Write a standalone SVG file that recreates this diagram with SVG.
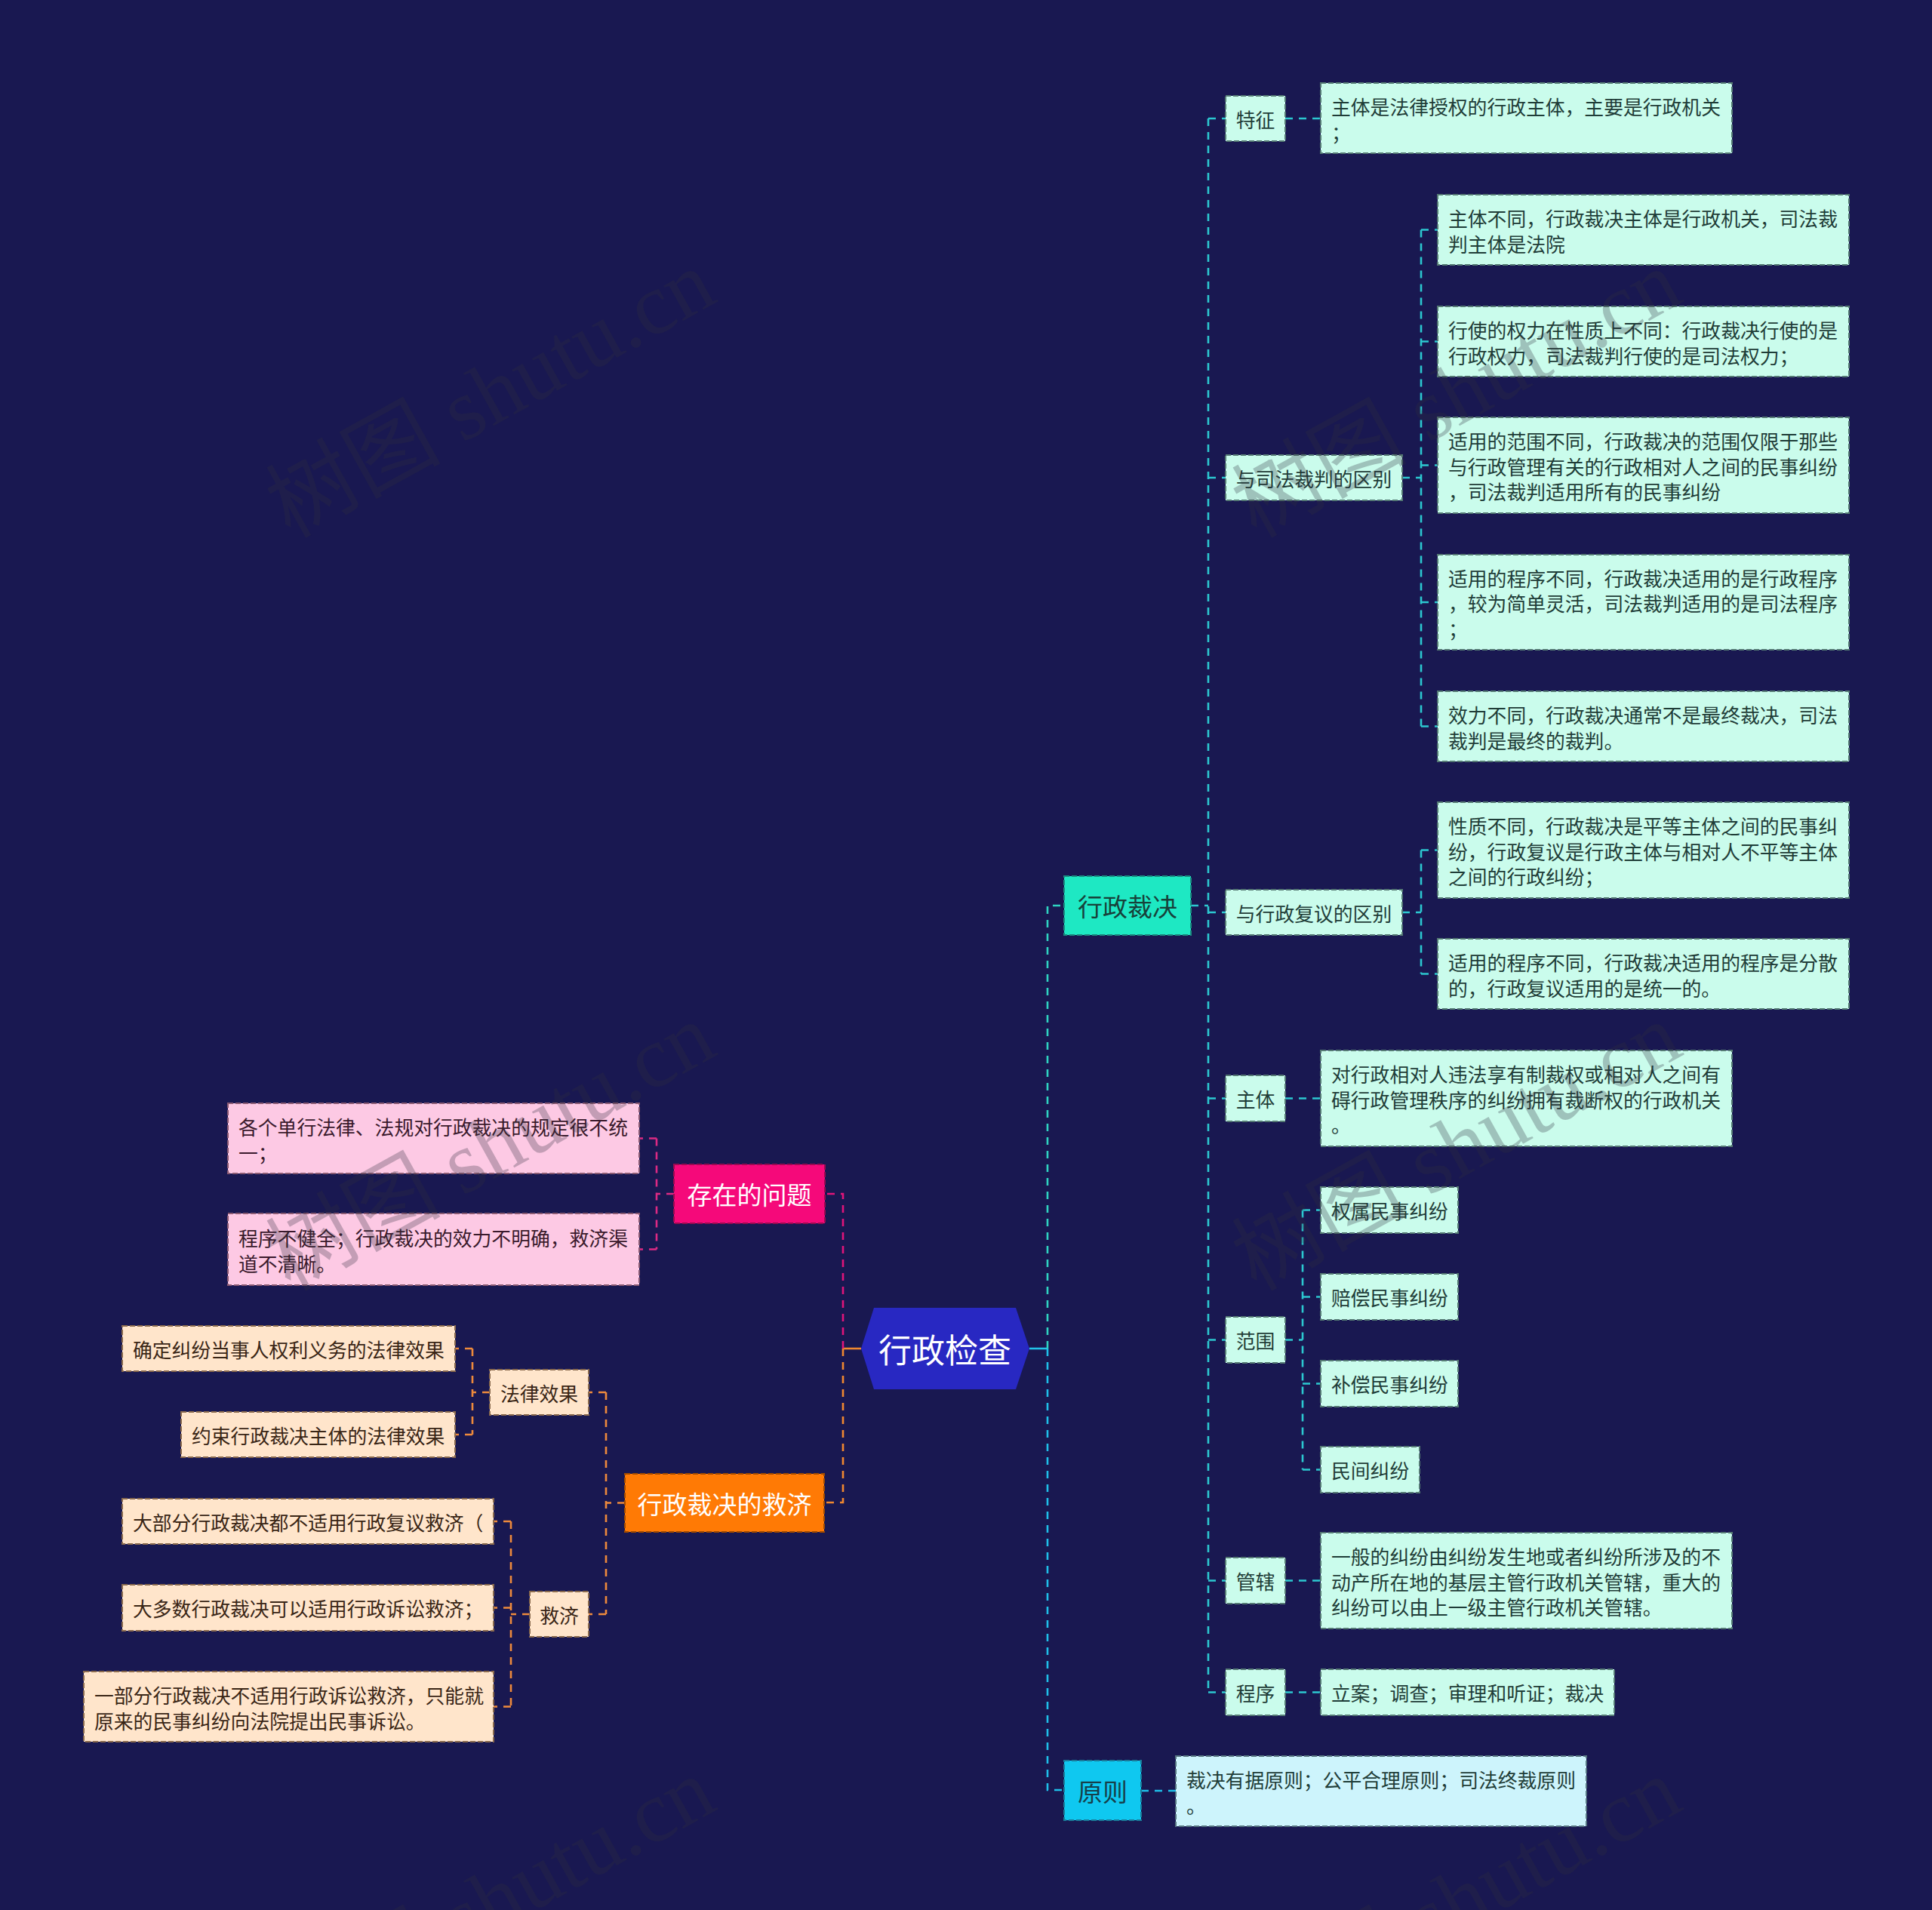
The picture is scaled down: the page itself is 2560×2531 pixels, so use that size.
<svg xmlns="http://www.w3.org/2000/svg" width="2560" height="2531" viewBox="0 0 2560 2531">
<style>
text{font-family:"Noto Sans CJK SC","Noto Sans",sans-serif;dominant-baseline:central}
.t{font-size:25.8px}
.c{text-anchor:middle}
.l1{font-size:33px;text-anchor:middle}
.box{stroke-width:2;stroke-dasharray:7 3}
.mint{fill:#cafcec;stroke:#557a74}
.mintT{fill:#1f3d38}
.pink{fill:#fdc9e4;stroke:#8a5a72}
.pinkT{fill:#3a1a2c}
.peach{fill:#ffe5cb;stroke:#8a6a4e}
.peachT{fill:#3a2616}
.sky{fill:#cdf4fc;stroke:#557480}
.con{fill:none;stroke-width:2.6;stroke-dasharray:10 8}
.teal{stroke:#2cc8d0}
.tealA{stroke:#2fd3c1}
.cyan{stroke:#1fbfe9}
.pk{stroke:#dc2a84}
.pkA{stroke:#e0157a}
.or{stroke:#ee8a3c}
.orA{stroke:#f08830}
.wm{font-family:"Liberation Serif","Noto Sans CJK SC",serif;font-size:116px;fill:#30303e;opacity:0.28;text-anchor:middle}
</style>
<rect x="0" y="0" width="2560" height="2531" fill="#191851"/>

<g id="connectors">
<path d="M1364,1787 H1388" stroke="#22c3e8" stroke-width="2.6" fill="none"/>
<path class="con tealA" d="M1388,1787 V1200 H1410"/>
<path class="con cyan" d="M1388,1787 V2372 H1410"/>
<path d="M1141,1787 H1117" stroke="#f08830" stroke-width="2.6" fill="none"/>
<path class="con pkA" d="M1117,1787 V1582 H1093"/>
<path class="con orA" d="M1117,1787 V1991 H1092"/>

<path class="con teal" d="M1578,1200 H1601"/>
<path class="con teal" d="M1601,157 V2243"/>
<path class="con teal" d="M1601,157 H1624 M1601,633 H1624 M1601,1209 H1624 M1601,1455.5 H1624 M1601,1775.5 H1624 M1601,2094.5 H1624 M1601,2242.5 H1624"/>
<path class="con teal" d="M1703,157 H1750"/>
<path class="con teal" d="M1858,633 H1883 M1883,304.5 V962.5 M1883,304.5 H1905 M1883,452.5 H1905 M1883,616.5 H1905 M1883,798 H1905 M1883,962.5 H1905"/>
<path class="con teal" d="M1858,1209 H1883 M1883,1126.5 V1290.5 M1883,1126.5 H1905 M1883,1290.5 H1905"/>
<path class="con teal" d="M1703,1455.5 H1750"/>
<path class="con teal" d="M1703,1775.5 H1726 M1726,1603.5 V1947.5 M1726,1603.5 H1750 M1726,1718.5 H1750 M1726,1833.5 H1750 M1726,1947.5 H1750"/>
<path class="con teal" d="M1703,2094.5 H1750"/>
<path class="con teal" d="M1703,2242.5 H1750"/>
<path class="con cyan" d="M1512,2373 H1558"/>

<path class="con pk" d="M893,1582 H870 M870,1508.5 V1655.5 M870,1508.5 H847 M870,1655.5 H847"/>
<path class="con or" d="M828,1991.5 H803 M803,1845 V2139 M803,1845 H780 M803,2139 H780"/>
<path class="con or" d="M649,1845 H626 M626,1787 V1901 M626,1787 H603 M626,1901 H603"/>
<path class="con or" d="M702,2139 H677 M677,2016 V2261.5 M677,2016 H654 M677,2130.5 H654 M677,2261.5 H654"/>
</g>

<g id="root">
<polygon points="1141,1787 1158,1733 1346,1733 1364,1787 1346,1841 1158,1841" fill="#2828c2"/>
<text x="1252" y="1787" fill="#ffffff" font-size="44" text-anchor="middle">行政检查</text>
</g>

<g id="n-xzcj">
<rect class="box" x="1410" y="1161" width="168" height="78" fill="#1ee8c3" stroke="#1a8a80"/>
<text class="l1" x="1494" y="1200" fill="#17413a">行政裁决</text>
</g>
<g id="n-yz">
<rect class="box" x="1410" y="2333" width="102" height="79" fill="#0fc8f0" stroke="#1a7a98"/>
<text class="l1" x="1461" y="2372.5" fill="#16404a">原则</text>
</g>
<g id="n-czwt">
<rect class="box" x="893" y="1543" width="200" height="78" fill="#f5097a" stroke="#9a0a50"/>
<text class="l1" x="993" y="1582" fill="#ffffff">存在的问题</text>
</g>
<g id="n-jj">
<rect class="box" x="828" y="1953" width="264" height="77" fill="#ff7a05" stroke="#a04a00"/>
<text class="l1" x="960" y="1991.5" fill="#ffffff">行政裁决的救济</text>
</g>

<g id="n-tz">
<rect class="box mint" x="1624" y="127" width="79" height="60"/>
<text class="t c mintT" x="1663.5" y="157">特征</text>
</g>
<g id="n-sfqb">
<rect class="box mint" x="1624" y="603" width="234" height="60"/>
<text class="t c mintT" x="1741" y="633">与司法裁判的区别</text>
</g>
<g id="n-fyqb">
<rect class="box mint" x="1624" y="1179" width="234" height="60"/>
<text class="t c mintT" x="1741" y="1209">与行政复议的区别</text>
</g>
<g id="n-zt">
<rect class="box mint" x="1624" y="1425" width="79" height="61"/>
<text class="t c mintT" x="1663.5" y="1455.5">主体</text>
</g>
<g id="n-fw">
<rect class="box mint" x="1624" y="1745" width="79" height="61"/>
<text class="t c mintT" x="1663.5" y="1775.5">范围</text>
</g>
<g id="n-gx">
<rect class="box mint" x="1624" y="2064" width="79" height="61"/>
<text class="t c mintT" x="1663.5" y="2094.5">管辖</text>
</g>
<g id="n-cx">
<rect class="box mint" x="1624" y="2212" width="79" height="61"/>
<text class="t c mintT" x="1663.5" y="2242.5">程序</text>
</g>

<g id="l-tz">
<rect class="box mint" x="1750" y="110" width="545" height="93"/>
<text class="t mintT" x="1764"><tspan x="1764" y="140">主体是法律授权的行政主体，主要是行政机关</tspan><tspan x="1764" y="173.5">；</tspan></text>
</g>
<g id="l-sf1">
<rect class="box mint" x="1905" y="258" width="545" height="93"/>
<text class="t mintT"><tspan x="1919" y="288">主体不同，行政裁决主体是行政机关，司法裁</tspan><tspan x="1919" y="321.5">判主体是法院</tspan></text>
</g>
<g id="l-sf2">
<rect class="box mint" x="1905" y="406" width="545" height="93"/>
<text class="t mintT"><tspan x="1919" y="436">行使的权力在性质上不同：行政裁决行使的是</tspan><tspan x="1919" y="469.5">行政权力，司法裁判行使的是司法权力；</tspan></text>
</g>
<g id="l-sf3">
<rect class="box mint" x="1905" y="553" width="545" height="127"/>
<text class="t mintT"><tspan x="1919" y="583">适用的范围不同，行政裁决的范围仅限于那些</tspan><tspan x="1919" y="616.5">与行政管理有关的行政相对人之间的民事纠纷</tspan><tspan x="1919" y="650">，司法裁判适用所有的民事纠纷</tspan></text>
</g>
<g id="l-sf4">
<rect class="box mint" x="1905" y="735" width="545" height="126"/>
<text class="t mintT"><tspan x="1919" y="764.5">适用的程序不同，行政裁决适用的是行政程序</tspan><tspan x="1919" y="798">，较为简单灵活，司法裁判适用的是司法程序</tspan><tspan x="1919" y="831.5">；</tspan></text>
</g>
<g id="l-sf5">
<rect class="box mint" x="1905" y="916" width="545" height="93"/>
<text class="t mintT"><tspan x="1919" y="946">效力不同，行政裁决通常不是最终裁决，司法</tspan><tspan x="1919" y="979.5">裁判是最终的裁判。</tspan></text>
</g>
<g id="l-fy1">
<rect class="box mint" x="1905" y="1063" width="545" height="127"/>
<text class="t mintT"><tspan x="1919" y="1093">性质不同，行政裁决是平等主体之间的民事纠</tspan><tspan x="1919" y="1126.5">纷，行政复议是行政主体与相对人不平等主体</tspan><tspan x="1919" y="1160">之间的行政纠纷；</tspan></text>
</g>
<g id="l-fy2">
<rect class="box mint" x="1905" y="1244" width="545" height="93"/>
<text class="t mintT"><tspan x="1919" y="1274">适用的程序不同，行政裁决适用的程序是分散</tspan><tspan x="1919" y="1307.5">的，行政复议适用的是统一的。</tspan></text>
</g>
<g id="l-zt">
<rect class="box mint" x="1750" y="1392" width="545" height="127"/>
<text class="t mintT"><tspan x="1764" y="1422">对行政相对人违法享有制裁权或相对人之间有</tspan><tspan x="1764" y="1455.5">碍行政管理秩序的纠纷拥有裁断权的行政机关</tspan><tspan x="1764" y="1489">。</tspan></text>
</g>
<g id="l-fw1">
<rect class="box mint" x="1750" y="1573" width="182" height="61"/>
<text class="t mintT" x="1764" y="1603.5">权属民事纠纷</text>
</g>
<g id="l-fw2">
<rect class="box mint" x="1750" y="1688" width="182" height="61"/>
<text class="t mintT" x="1764" y="1718.5">赔偿民事纠纷</text>
</g>
<g id="l-fw3">
<rect class="box mint" x="1750" y="1803" width="182" height="61"/>
<text class="t mintT" x="1764" y="1833.5">补偿民事纠纷</text>
</g>
<g id="l-fw4">
<rect class="box mint" x="1750" y="1917" width="131" height="61"/>
<text class="t mintT" x="1764" y="1947.5">民间纠纷</text>
</g>
<g id="l-gx">
<rect class="box mint" x="1750" y="2031" width="545" height="127"/>
<text class="t mintT"><tspan x="1764" y="2061">一般的纠纷由纠纷发生地或者纠纷所涉及的不</tspan><tspan x="1764" y="2094.5">动产所在地的基层主管行政机关管辖，重大的</tspan><tspan x="1764" y="2128">纠纷可以由上一级主管行政机关管辖。</tspan></text>
</g>
<g id="l-cx">
<rect class="box mint" x="1750" y="2212" width="389" height="61"/>
<text class="t mintT" x="1764" y="2242.5">立案；调查；审理和听证；裁决</text>
</g>
<g id="l-yz">
<rect class="box sky" x="1558" y="2327" width="544" height="93"/>
<text class="t mintT"><tspan x="1572" y="2357">裁决有据原则；公平合理原则；司法终裁原则</tspan><tspan x="1572" y="2390.5">。</tspan></text>
</g>

<g id="l-wt1">
<rect class="box pink" x="302" y="1462" width="545" height="93"/>
<text class="t pinkT"><tspan x="316" y="1492">各个单行法律、法规对行政裁决的规定很不统</tspan><tspan x="316" y="1525.5">一；</tspan></text>
</g>
<g id="l-wt2">
<rect class="box pink" x="302" y="1608" width="545" height="95"/>
<text class="t pinkT"><tspan x="316" y="1639">程序不健全；行政裁决的效力不明确，救济渠</tspan><tspan x="316" y="1672.5">道不清晰。</tspan></text>
</g>

<g id="n-flxg">
<rect class="box peach" x="649" y="1815" width="131" height="60"/>
<text class="t c peachT" x="714.5" y="1845">法律效果</text>
</g>
<g id="n-jj2">
<rect class="box peach" x="702" y="2109" width="78" height="60"/>
<text class="t c peachT" x="741" y="2139">救济</text>
</g>
<g id="l-xg1">
<rect class="box peach" x="162" y="1757" width="441" height="60"/>
<text class="t peachT" x="176" y="1787">确定纠纷当事人权利义务的法律效果</text>
</g>
<g id="l-xg2">
<rect class="box peach" x="240" y="1871" width="363" height="60"/>
<text class="t peachT" x="254" y="1901">约束行政裁决主体的法律效果</text>
</g>
<g id="l-jj1">
<rect class="box peach" x="162" y="1986" width="492" height="60"/>
<text class="t peachT" x="176" y="2016">大部分行政裁决都不适用行政复议救济（</text>
</g>
<g id="l-jj2">
<rect class="box peach" x="162" y="2100" width="492" height="61"/>
<text class="t peachT" x="176" y="2130.5">大多数行政裁决可以适用行政诉讼救济；</text>
</g>
<g id="l-jj3">
<rect class="box peach" x="111" y="2215" width="543" height="93"/>
<text class="t peachT"><tspan x="125" y="2245">一部分行政裁决不适用行政诉讼救济，只能就</tspan><tspan x="125" y="2278.5">原来的民事纠纷向法院提出民事诉讼。</tspan></text>
</g>

<g id="watermarks">
<text class="wm" transform="translate(650,522) rotate(-29)">树图 shutu.cn</text>
<text class="wm" transform="translate(1930,522) rotate(-29)">树图 shutu.cn</text>
<text class="wm" transform="translate(650,1520) rotate(-29)">树图 shutu.cn</text>
<text class="wm" transform="translate(1930,1520) rotate(-29)">树图 shutu.cn</text>
<text class="wm" transform="translate(650,2520) rotate(-29)">树图 shutu.cn</text>
<text class="wm" transform="translate(1930,2520) rotate(-29)">树图 shutu.cn</text>
</g>
</svg>
